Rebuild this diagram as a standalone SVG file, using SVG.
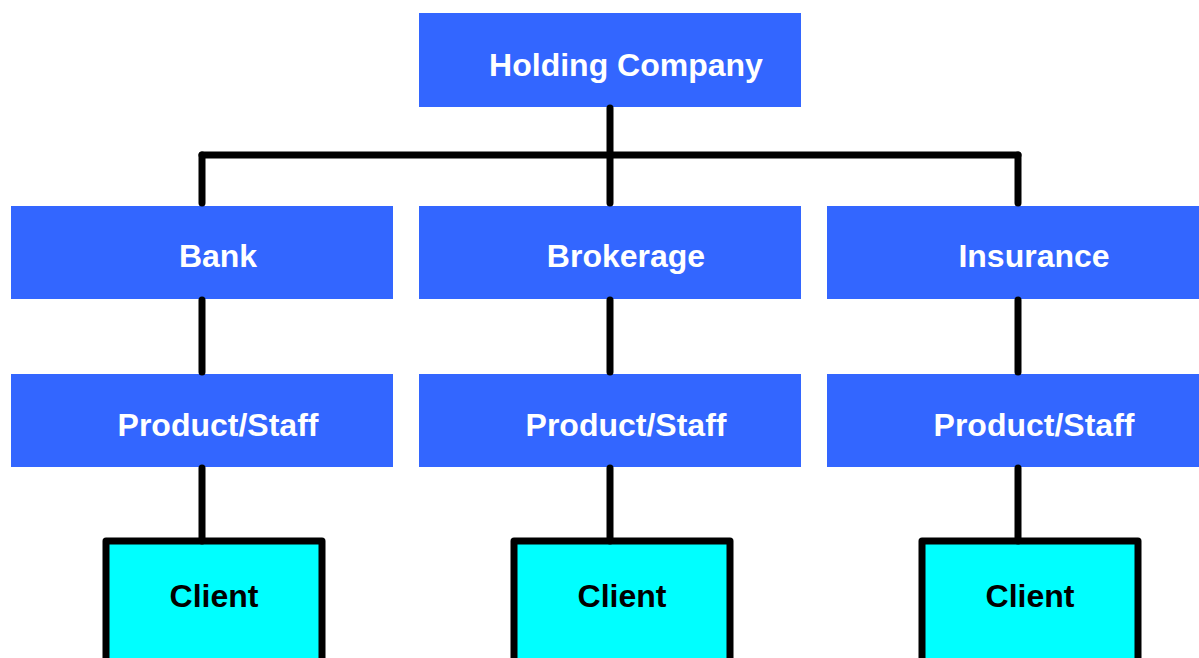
<svg xmlns="http://www.w3.org/2000/svg" width="1199" height="658" viewBox="0 0 1199 658">
<style>
.org{fill:#3366FF;}
.cli{fill:#00FFFF;stroke:#000;stroke-width:7;stroke-linejoin:round;}
.wt{fill:#fff;font-family:"Liberation Sans",Arial,sans-serif;font-weight:bold;font-size:32px;text-anchor:middle;}
.bt{fill:#000;font-family:"Liberation Sans",Arial,sans-serif;font-weight:bold;font-size:32px;text-anchor:middle;}
.con{stroke:#000;stroke-width:7;stroke-linecap:round;fill:none;}
</style>
<rect width="1199" height="658" fill="#fff"/>
<g id="holding"><rect class="org" x="419" y="13" width="382" height="94"/><text class="wt" x="626" y="76">Holding Company</text></g>
<g id="bank"><rect class="org" x="11" y="206" width="382" height="93"/><text class="wt" x="218" y="267">Bank</text></g>
<g id="brokerage"><rect class="org" x="419" y="206" width="382" height="93"/><text class="wt" x="626" y="267">Brokerage</text></g>
<g id="insurance"><rect class="org" x="827" y="206" width="382" height="93"/><text class="wt" x="1034" y="267">Insurance</text></g>
<g id="ps-bank"><rect class="org" x="11" y="374" width="382" height="93"/><text class="wt" x="218" y="436">Product/Staff</text></g>
<g id="ps-brokerage"><rect class="org" x="419" y="374" width="382" height="93"/><text class="wt" x="626" y="436">Product/Staff</text></g>
<g id="ps-insurance"><rect class="org" x="827" y="374" width="382" height="93"/><text class="wt" x="1034" y="436">Product/Staff</text></g>
<g id="client-bank"><rect class="cli" x="106" y="541" width="216" height="130"/><text class="bt" x="214" y="607">Client</text></g>
<g id="client-brokerage"><rect class="cli" x="514" y="541" width="216" height="130"/><text class="bt" x="622" y="607">Client</text></g>
<g id="client-insurance"><rect class="cli" x="922" y="541" width="216" height="130"/><text class="bt" x="1030" y="607">Client</text></g>
<g id="connectors">
<line class="con" x1="610" y1="108" x2="610" y2="203"/>
<line class="con" x1="202" y1="155" x2="1018" y2="155"/>
<line class="con" x1="202" y1="155" x2="202" y2="203"/>
<line class="con" x1="1018" y1="155" x2="1018" y2="203"/>
<line class="con" x1="202" y1="300" x2="202" y2="372"/>
<line class="con" x1="610" y1="300" x2="610" y2="372"/>
<line class="con" x1="1018" y1="300" x2="1018" y2="372"/>
<line class="con" x1="202" y1="468" x2="202" y2="541"/>
<line class="con" x1="610" y1="468" x2="610" y2="541"/>
<line class="con" x1="1018" y1="468" x2="1018" y2="541"/>
</g>
</svg>
